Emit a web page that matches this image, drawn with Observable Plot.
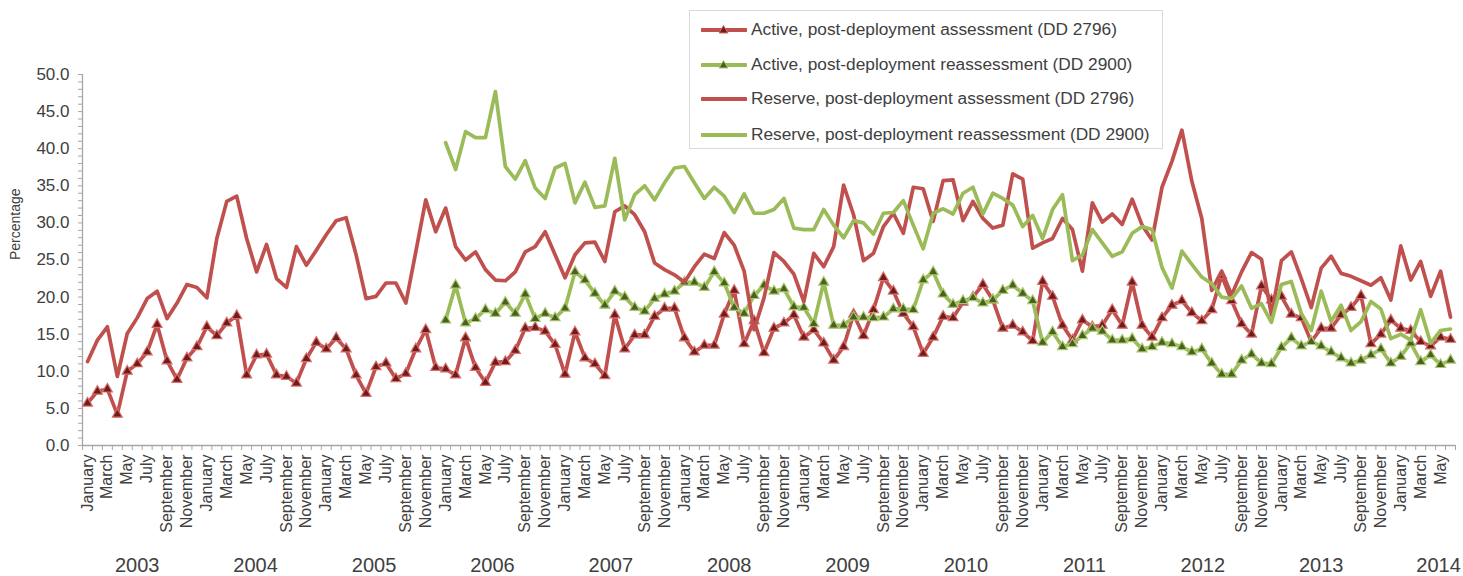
<!DOCTYPE html>
<html><head><meta charset="utf-8">
<script src="https://cdn.jsdelivr.net/npm/d3@7"></script>
<script src="https://cdn.jsdelivr.net/npm/@observablehq/plot@0.6"></script>
<style>
body{margin:0;background:#fff;font-family:"Liberation Sans",Arial,sans-serif;}
#wrap{position:relative;width:1463px;height:576px;overflow:hidden}
#legend{position:absolute;left:689px;top:10px;width:474px;height:139px;border:1.5px solid #d9d9d9;background:#fff;box-sizing:border-box}
.item{position:absolute;left:11px;height:22px;display:flex;align-items:center;font-size:17.3px;color:#404040;white-space:nowrap}
.item svg{margin-right:4px}
</style></head><body>
<div id="wrap"><div id="chart"></div><div id="legend"></div></div>
<script>
// Monthly data, January 2003 – June 2014 (percent)
const monthNames = ["January","February","March","April","May","June","July","August","September","October","November","December"];
const reassessStart = 36; // reassessment series begin January 2006

const activeAssessment = [
  5.7, 7.3, 7.6, 4.2, 10.0, 11.0, 12.6, 16.3, 11.4, 8.9, 11.8, 13.3,
  16.0, 14.8, 16.5, 17.5, 9.5, 12.2, 12.3, 9.5, 9.3, 8.4, 11.7, 13.9,
  13.0, 14.5, 13.0, 9.5, 7.0, 10.6, 11.1, 9.0, 9.7, 13.0, 15.6, 10.5,
  10.3, 9.5, 14.5, 10.5, 8.5, 11.2, 11.3, 12.8, 15.8, 15.9, 15.4, 13.6,
  9.6, 15.3, 11.8, 11.0, 9.4, 17.6, 13.0, 14.9, 14.9, 17.4, 18.5, 18.5,
  14.5, 12.6, 13.5, 13.5, 17.7, 20.9, 13.7, 16.8, 12.5, 15.8, 16.5, 17.6,
  14.6, 15.6, 13.8, 11.5, 13.3, 17.7, 14.8, 18.3, 22.6, 20.8, 17.8, 16.0,
  12.4, 14.6, 17.4, 17.2, 19.3, 20.0, 21.7, 19.6, 15.8, 16.2, 15.3, 14.1,
  22.1, 20.1, 16.2, 14.2, 16.9, 16.0, 16.2, 18.3, 16.2, 22.0, 16.2, 14.6,
  17.2, 18.9, 19.5, 17.9, 16.8, 18.3, 22.9, 19.5, 16.4, 15.0, 21.5, 19.6,
  20.1, 17.7, 17.2, 14.0, 15.8, 15.8, 17.6, 18.6, 20.2, 13.7, 15.0, 16.9,
  15.8, 15.5, 14.0, 13.4, 14.6, 14.3
];
const reserveAssessment = [
  11.3, 14.2, 16.0, 9.3, 15.1, 17.2, 19.8, 20.8, 17.1, 19.2, 21.7, 21.3,
  19.9, 27.9, 32.9, 33.6, 27.9, 23.4, 27.1, 22.5, 21.3, 26.8, 24.3, 26.3,
  28.4, 30.3, 30.7, 25.7, 19.8, 20.1, 21.9, 21.9, 19.2, 26.1, 33.1, 28.8,
  32.0, 26.8, 25.0, 26.1, 23.7, 22.3, 22.2, 23.4, 26.1, 26.8, 28.8, 25.7,
  22.6, 25.7, 27.3, 27.4, 24.8, 31.5, 32.3, 31.1, 28.8, 24.6, 23.7, 23.0,
  22.0, 24.1, 25.8, 25.2, 28.7, 27.0, 23.5, 15.6, 19.9, 26.0, 24.8, 23.1,
  19.4, 25.9, 24.1, 26.8, 35.1, 31.1, 24.9, 25.9, 29.5, 31.3, 28.6, 34.8,
  34.6, 30.2, 35.7, 35.8, 30.3, 32.9, 30.6, 29.3, 29.7, 36.6, 35.9, 26.6,
  27.3, 27.9, 30.6, 29.1, 23.5, 32.7, 30.1, 31.2, 29.8, 33.2, 29.7, 27.7,
  34.8, 38.3, 42.5, 35.6, 30.6, 20.9, 23.5, 20.3, 23.4, 26.0, 25.1, 17.6,
  24.9, 26.1, 22.5, 18.6, 23.9, 25.5, 23.2, 22.8, 22.2, 21.6, 22.6, 19.6,
  26.9, 22.3, 24.8, 20.1, 23.5, 17.3
];
const activeReassessment = [
  16.9, 21.6, 16.5, 17.1, 18.3, 17.8, 19.3, 17.8, 20.4, 17.1, 17.8, 17.2,
  18.5, 23.4, 22.3, 20.5, 18.9, 20.8, 20.0, 18.6, 18.1, 19.8, 20.4, 20.8,
  22.0, 22.0, 21.3, 23.4, 21.9, 18.6, 17.8, 20.2, 21.6, 20.8, 21.1, 18.7,
  18.6, 16.4, 22.0, 16.2, 16.2, 17.3, 17.3, 17.2, 17.3, 18.4, 18.4, 18.3,
  22.3, 23.4, 20.4, 19.0, 19.5, 19.9, 19.2, 19.6, 20.9, 21.6, 20.5, 19.5,
  13.9, 15.3, 13.3, 13.7, 14.8, 15.8, 15.4, 14.2, 14.2, 14.4, 13.0, 13.3,
  13.9, 13.7, 13.3, 12.6, 13.0, 11.1, 9.6, 9.6, 11.5, 12.3, 11.1, 11.0,
  13.2, 14.5, 13.4, 14.0, 13.4, 12.6, 11.8, 11.1, 11.5, 12.2, 13.0, 11.1,
  12.0, 13.8, 11.3, 12.2, 10.9, 11.5
];
const reserveReassessment = [
  40.8, 37.2, 42.3, 41.5, 41.5, 47.7, 37.6, 35.9, 38.4, 34.7, 33.3, 37.4,
  38.0, 32.7, 35.5, 32.1, 32.3, 38.7, 30.4, 33.8, 35.0, 33.1, 35.4, 37.4,
  37.6, 35.4, 33.3, 34.8, 33.6, 31.4, 33.9, 31.3, 31.3, 31.8, 33.3, 29.3,
  29.1, 29.1, 31.8, 29.7, 28.0, 30.3, 30.0, 28.5, 31.3, 31.4, 33.0, 29.7,
  26.5, 31.3, 31.9, 31.2, 34.0, 34.8, 31.2, 34.0, 33.3, 32.4, 29.5, 31.0,
  27.9, 31.8, 33.8, 24.9, 25.7, 29.1, 27.3, 25.5, 26.1, 28.6, 29.5, 29.1,
  24.0, 21.2, 26.2, 24.4, 22.7, 21.8, 20.0, 19.8, 21.5, 18.5, 19.1, 16.6,
  21.7, 22.1, 17.8, 15.5, 20.8, 16.7, 18.9, 15.5, 16.7, 19.4, 18.4, 14.4,
  15.0, 14.2, 18.3, 13.8, 15.5, 15.7
];
const yearLabels = ["2003","2004","2005","2006","2007","2008","2009","2010","2011","2012","2013","2014"];
const yearLabelPos = [5, 16.9, 28.8, 40.7, 52.6, 64.5, 76.4, 88.3, 100.2, 112.1, 124, 135.8];
const yTicks = [0, 5, 10, 15, 20, 25, 30, 35, 40, 45, 50];
const seriesNames = [
  "Active, post-deployment assessment (DD 2796)",
  "Active, post-deployment reassessment (DD 2900)",
  "Reserve, post-deployment assessment (DD 2796)",
  "Reserve, post-deployment reassessment (DD 2900)"
];

const RED = "#C0504D", GREEN = "#9BBB59";
const RED_FILL = "#6e1c1c", RED_EDGE = "#d86d6a";
const GREEN_FILL = "#4b5f22", GREEN_EDGE = "#a8c96a";
const AXIS = "#a6a6a6", TEXT = "#404040";

const rows = (arr, start = 0) => arr.map((v, k) => ({i: start + k, v}));
const aPDA = rows(activeAssessment);
const rPDA = rows(reserveAssessment);
const aPDRA = rows(activeReassessment, reassessStart);
const rPDRA = rows(reserveReassessment, reassessStart);
const n = activeAssessment.length;
const allIdx = d3.range(n);
const boundaries = d3.range(-0.5, n, 1);
const labelIdx = allIdx.filter(i => i % 2 === 0);
const yearMap = new Map(yearLabelPos.map((p, k) => [p, yearLabels[k]]));

const chart = Plot.plot({
  width: 1463,
  height: 576,
  marginLeft: 82,
  marginRight: 8,
  marginTop: 74,
  marginBottom: 131,
  style: {fontFamily: "'Liberation Sans', Arial, sans-serif", color: TEXT, background: "#fff"},
  x: {domain: [-0.5, n - 0.5]},
  y: {domain: [0, 50]},
  marks: [
    Plot.axisY({ticks: d3.range(0, 51, 1), tickSize: 4, tickPadding: 9, stroke: AXIS, fill: TEXT, fontSize: 17,
      tickFormat: d => yTicks.includes(d) ? d.toFixed(1) : "", label: null}),
    Plot.axisX({ticks: boundaries, tickSize: 5, stroke: AXIS, tickFormat: () => "", label: null}),
    Plot.axisX({ticks: labelIdx, tickSize: 0, tickPadding: 9, tickRotate: -90, fontSize: 16, fill: TEXT,
      tickFormat: i => monthNames[i % 12], label: null}),
    Plot.axisX({ticks: yearLabelPos, tickSize: 0, tickPadding: 112, fontSize: 20, fill: TEXT,
      tickFormat: p => yearMap.get(p), label: null}),
    Plot.text(["Percentage"], {frameAnchor: "left", rotate: -90, dx: -67, fontSize: 14, fill: TEXT}),
    Plot.ruleY([0], {stroke: AXIS, strokeWidth: 1.3}),
    Plot.ruleX([-0.5], {stroke: AXIS, strokeWidth: 1.3}),
    Plot.line(aPDA, {x: "i", y: "v", stroke: RED, strokeWidth: 3.7}),
    Plot.dot(aPDA, {x: "i", y: "v", symbol: "triangle", r: 3.7, fill: RED_FILL, stroke: RED_EDGE, strokeWidth: 1.2}),
    Plot.line(aPDRA, {x: "i", y: "v", stroke: GREEN, strokeWidth: 3.7}),
    Plot.dot(aPDRA, {x: "i", y: "v", symbol: "triangle", r: 3.7, fill: GREEN_FILL, stroke: GREEN_EDGE, strokeWidth: 1.2}),
    Plot.line(rPDA, {x: "i", y: "v", stroke: RED, strokeWidth: 3.7}),
    Plot.line(rPDRA, {x: "i", y: "v", stroke: GREEN, strokeWidth: 3.7})
  ]
});
document.getElementById("chart").appendChild(chart);

// Legend
const legendDefs = [
  {name: seriesNames[0], color: RED, marker: true, fillM: RED_FILL, edge: RED_EDGE},
  {name: seriesNames[1], color: GREEN, marker: true, fillM: GREEN_FILL, edge: GREEN_EDGE},
  {name: seriesNames[2], color: RED, marker: false},
  {name: seriesNames[3], color: GREEN, marker: false}
];
const legendTops = [7, 42, 76, 112];
const legend = document.getElementById("legend");
legendDefs.forEach((d, k) => {
  const div = document.createElement("div");
  div.className = "item";
  div.style.top = legendTops[k] + "px";
  const tri = d.marker ? `<path d="M22.5,6.5 L27,14 L18,14 Z" fill="${d.fillM}" stroke="${d.edge}" stroke-width="1"/>` : "";
  div.innerHTML = `<svg width="46" height="20" viewBox="0 0 46 20"><line x1="1" y1="11" x2="45" y2="11" stroke="${d.color}" stroke-width="4" stroke-linecap="round"/>${tri}</svg><span>${d.name}</span>`;
  legend.appendChild(div);
});
</script>
</body></html>
